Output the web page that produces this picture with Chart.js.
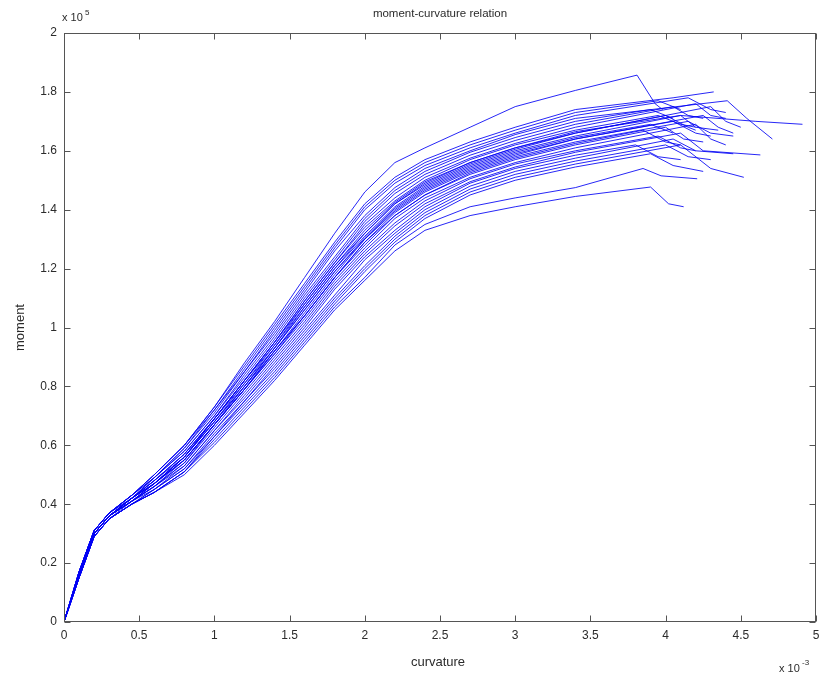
<!DOCTYPE html>
<html>
<head>
<meta charset="utf-8">
<script src="https://cdn.jsdelivr.net/npm/chart.js@4/dist/chart.umd.min.js"></script>
<style>
  html, body { margin: 0; padding: 0; background: #fff; }
  #wrap { width: 819px; height: 678px; position: relative; }
</style>
</head>
<body>
<div id="wrap"><canvas id="c" width="819" height="678"></canvas></div>
<script>
// Shared curvature stations (x 10^-3) for the loading branch of every specimen
const curvature = [0, 0.1, 0.2, 0.3, 0.45, 0.6, 0.8, 1.0, 1.2, 1.4, 1.6, 1.8, 2.0, 2.2, 2.4, 2.7, 3.0, 3.4];

// Moment (x 10^5) at each curvature station, one row per specimen
const moments = [
  [0, .15, .29, .35, .40, .44, .51, .62, .73, .84, .96, 1.08, 1.19, 1.29, 1.37, 1.45, 1.50, 1.545],
  [0, .15, .29, .35, .40, .44, .51, .63, .74, .85, .97, 1.09, 1.20, 1.30, 1.38, 1.46, 1.51, 1.555],
  [0, .15, .29, .35, .40, .45, .52, .63, .75, .86, .98, 1.10, 1.21, 1.31, 1.39, 1.47, 1.52, 1.565],
  [0, .15, .29, .35, .40, .45, .52, .64, .75, .87, .99, 1.11, 1.23, 1.32, 1.40, 1.48, 1.53, 1.575],
  [0, .15, .29, .35, .41, .45, .53, .65, .76, .88, 1.00, 1.13, 1.24, 1.33, 1.41, 1.49, 1.54, 1.585],
  [0, .16, .30, .36, .41, .46, .53, .65, .77, .89, 1.01, 1.14, 1.25, 1.345, 1.42, 1.495, 1.545, 1.595],
  [0, .16, .30, .36, .41, .46, .54, .66, .78, .90, 1.02, 1.15, 1.26, 1.355, 1.43, 1.505, 1.555, 1.60],
  [0, .16, .30, .36, .41, .46, .54, .67, .79, .91, 1.03, 1.16, 1.27, 1.37, 1.44, 1.51, 1.56, 1.61],
  [0, .16, .30, .36, .41, .46, .55, .67, .79, .92, 1.04, 1.17, 1.29, 1.38, 1.45, 1.52, 1.57, 1.62],
  [0, .16, .30, .36, .41, .47, .55, .67, .79, .91, 1.04, 1.17, 1.28, 1.38, 1.45, 1.525, 1.575, 1.625],
  [0, .16, .30, .36, .41, .47, .55, .67, .79, .92, 1.04, 1.17, 1.29, 1.39, 1.46, 1.53, 1.58, 1.63],
  [0, .16, .30, .36, .41, .47, .55, .67, .80, .92, 1.05, 1.18, 1.30, 1.395, 1.465, 1.535, 1.585, 1.64],
  [0, .16, .30, .36, .42, .47, .56, .68, .80, .93, 1.06, 1.19, 1.30, 1.40, 1.47, 1.54, 1.59, 1.64],
  [0, .16, .30, .36, .42, .47, .56, .68, .80, .93, 1.06, 1.19, 1.305, 1.405, 1.475, 1.545, 1.595, 1.645],
  [0, .16, .30, .36, .42, .47, .56, .68, .81, .93, 1.07, 1.20, 1.31, 1.41, 1.48, 1.55, 1.60, 1.65],
  [0, .16, .30, .36, .42, .47, .56, .69, .81, .94, 1.07, 1.20, 1.32, 1.42, 1.485, 1.555, 1.605, 1.66],
  [0, .16, .30, .36, .42, .48, .56, .69, .82, .94, 1.08, 1.21, 1.32, 1.42, 1.49, 1.56, 1.61, 1.66],
  [0, .16, .30, .36, .42, .48, .57, .69, .82, .95, 1.08, 1.21, 1.33, 1.425, 1.495, 1.56, 1.61, 1.665],
  [0, .16, .30, .36, .42, .48, .57, .69, .82, .95, 1.09, 1.22, 1.34, 1.43, 1.50, 1.57, 1.62, 1.67],
  [0, .16, .30, .36, .42, .48, .57, .69, .82, .95, 1.09, 1.22, 1.35, 1.44, 1.51, 1.575, 1.625, 1.68],
  [0, .17, .31, .37, .42, .49, .58, .70, .83, .96, 1.10, 1.23, 1.36, 1.455, 1.52, 1.585, 1.635, 1.69],
  [0, .17, .31, .37, .42, .49, .58, .70, .84, .97, 1.11, 1.24, 1.37, 1.465, 1.53, 1.595, 1.645, 1.70],
  [0, .17, .31, .37, .43, .49, .59, .71, .85, .98, 1.12, 1.26, 1.38, 1.475, 1.54, 1.60, 1.655, 1.71],
  [0, .17, .31, .37, .43, .49, .59, .72, .85, .99, 1.13, 1.27, 1.40, 1.49, 1.55, 1.61, 1.66, 1.72],
  [0, .17, .31, .37, .43, .50, .60, .72, .86, 1.00, 1.14, 1.28, 1.41, 1.50, 1.56, 1.62, 1.67, 1.73],
  [0, .17, .31, .37, .43, .50, .60, .73, .87, 1.01, 1.15, 1.29, 1.42, 1.51, 1.57, 1.63, 1.68, 1.74],
  [0, .17, .31, .37, .43, .50, .60, .73, .88, 1.02, 1.17, 1.32, 1.46, 1.56, 1.61, 1.68, 1.75, 1.805],
  [0, .15, .29, .35, .40, .44, .50, .60, .71, .82, .94, 1.06, 1.16, 1.26, 1.33, 1.38, 1.41, 1.445],
  [0, .15, .29, .35, .40, .44, .51, .61, .72, .83, .95, 1.07, 1.17, 1.28, 1.35, 1.41, 1.44, 1.475]
];

// Peak and softening branch of each specimen: [curvature, moment] pairs
const postPeak = [
  [[3.90, 1.59], [4.05, 1.55], [4.25, 1.53]],
  [[4.10, 1.62], [4.30, 1.54], [4.52, 1.51]],
  [[4.00, 1.62], [4.15, 1.58], [4.30, 1.57]],
  [[4.05, 1.64], [4.20, 1.60], [4.45, 1.59]],
  [[3.80, 1.62], [3.95, 1.58], [4.10, 1.57]],
  [[4.10, 1.66], [4.25, 1.60], [4.63, 1.586]],
  [[3.95, 1.65], [4.10, 1.61], [4.20, 1.60]],
  [[4.20, 1.69], [4.30, 1.64], [4.40, 1.62]],
  [[4.00, 1.68], [4.12, 1.64], [4.25, 1.63]],
  [[3.85, 1.67], [4.00, 1.63], [4.10, 1.62]],
  [[4.15, 1.70], [4.30, 1.66], [4.45, 1.65]],
  [[4.05, 1.70], [4.20, 1.66], [4.30, 1.65]],
  [[4.25, 1.72], [4.35, 1.68], [4.45, 1.66]],
  [[3.90, 1.69], [4.05, 1.66]],
  [[4.10, 1.72], [4.20, 1.68], [4.35, 1.67]],
  [[4.00, 1.72], [4.15, 1.68], [4.20, 1.67]],
  [[4.30, 1.75], [4.40, 1.70], [4.50, 1.68]],
  [[4.10, 1.72], [4.60, 1.70], [4.91, 1.69]],
  [[3.95, 1.72], [4.10, 1.69], [4.20, 1.68]],
  [[4.20, 1.76], [4.30, 1.72], [4.40, 1.71]],
  [[4.05, 1.75], [4.15, 1.72], [4.25, 1.71]],
  [[3.90, 1.74], [4.05, 1.71]],
  [[4.41, 1.77], [4.54, 1.71], [4.71, 1.64]],
  [[4.15, 1.78], [4.30, 1.74], [4.40, 1.73]],
  [[3.95, 1.77], [4.10, 1.74]],
  [[4.05, 1.78], [4.32, 1.80]],
  [[3.81, 1.857], [3.93, 1.76], [3.98, 1.74]],
  [[3.90, 1.477], [4.02, 1.42], [4.12, 1.41]],
  [[3.85, 1.54], [3.97, 1.515], [4.21, 1.505]]
];

const xTicks = [0, 0.5, 1, 1.5, 2, 2.5, 3, 3.5, 4, 4.5, 5];
const yTicks = [0, 0.2, 0.4, 0.6, 0.8, 1, 1.2, 1.4, 1.6, 1.8, 2];

const chartTitle = 'moment-curvature relation';
const xTitle = 'curvature';
const yTitle = 'moment';
const xExponent = '-3';
const yExponent = '5';

const FONT = '"Liberation Sans", Arial, Helvetica, sans-serif';
const TEXT = '#2b2b2b';

const datasets = moments.map((row, i) => ({
  data: curvature.map((c, j) => ({ x: c, y: row[j] }))
    .concat(postPeak[i].map(([c, m]) => ({ x: c, y: m }))),
  borderColor: 'rgba(0, 0, 245, 0.85)',
  borderWidth: 1,
  pointRadius: 0,
  showLine: true,
  fill: false,
  tension: 0
}));

const label = v => String(Math.round(v * 10) / 10);

// Boxed axes with inward ticks, title, axis labels and scale multipliers
const frame = {
  id: 'frame',
  afterDraw(chart) {
    const { ctx, chartArea: a, scales: { x, y } } = chart;
    const L = Math.round(a.left) + 0.5, R = Math.round(a.right) - 0.5;
    const T = Math.round(a.top) + 0.5, B = Math.round(a.bottom) - 0.5;
    ctx.save();
    ctx.strokeStyle = '#555';
    ctx.lineWidth = 1;
    ctx.strokeRect(L, T, R - L, B - T);
    ctx.beginPath();
    xTicks.forEach(v => {
      const px = Math.round(x.getPixelForValue(v)) + 0.5;
      ctx.moveTo(px, B); ctx.lineTo(px, B - 6);
      ctx.moveTo(px, T); ctx.lineTo(px, T + 6);
    });
    yTicks.forEach(v => {
      const py = Math.round(y.getPixelForValue(v)) + 0.5;
      ctx.moveTo(L, py); ctx.lineTo(L + 6, py);
      ctx.moveTo(R, py); ctx.lineTo(R - 6, py);
    });
    ctx.stroke();

    ctx.fillStyle = TEXT;
    ctx.textAlign = 'center';
    ctx.textBaseline = 'middle';
    ctx.font = '11.5px ' + FONT;
    ctx.fillText(chartTitle, (a.left + a.right) / 2, 14);
    ctx.font = '13px ' + FONT;
    ctx.fillText(xTitle, (a.left + a.right) / 2 - 2, 662);
    ctx.save();
    ctx.translate(20, (a.top + a.bottom) / 2);
    ctx.rotate(-Math.PI / 2);
    ctx.fillText(yTitle, 0, 0);
    ctx.restore();

    // multipliers
    ctx.textAlign = 'left';
    ctx.textBaseline = 'alphabetic';
    ctx.font = '11px ' + FONT;
    ctx.fillText('x 10', 62, 21);
    ctx.font = '8px ' + FONT;
    ctx.fillText(yExponent, 85, 15);
    ctx.font = '11px ' + FONT;
    ctx.fillText('x 10', 779, 672);
    ctx.font = '8px ' + FONT;
    ctx.fillText(xExponent, 802, 665);
    ctx.restore();
  }
};

new Chart(document.getElementById('c'), {
  type: 'scatter',
  data: { datasets },
  options: {
    responsive: false,
    animation: false,
    devicePixelRatio: 1,
    layout: { padding: { top: 33, right: 3, left: 0, bottom: 0 } },
    plugins: { legend: { display: false }, tooltip: { enabled: false }, title: { display: false } },
    scales: {
      x: {
        type: 'linear', min: 0, max: 5,
        afterBuildTicks: s => { s.ticks = xTicks.map(v => ({ value: v })); },
        afterFit: s => { s.height = 56; s.paddingLeft = 0; s.paddingRight = 0; },
        grid: { display: false, drawTicks: false },
        border: { display: false },
        ticks: { padding: 6, maxRotation: 0, autoSkip: false, color: TEXT, font: { size: 12, family: FONT }, callback: label }
      },
      y: {
        type: 'linear', min: 0, max: 2,
        afterBuildTicks: s => { s.ticks = yTicks.map(v => ({ value: v })); },
        afterFit: s => { s.width = 64; s.paddingTop = 0; s.paddingBottom = 0; },
        grid: { display: false, drawTicks: false },
        border: { display: false },
        ticks: { padding: 7, autoSkip: false, color: TEXT, font: { size: 12, family: FONT }, callback: label }
      }
    }
  },
  plugins: [frame]
});
</script>
</body>
</html>
